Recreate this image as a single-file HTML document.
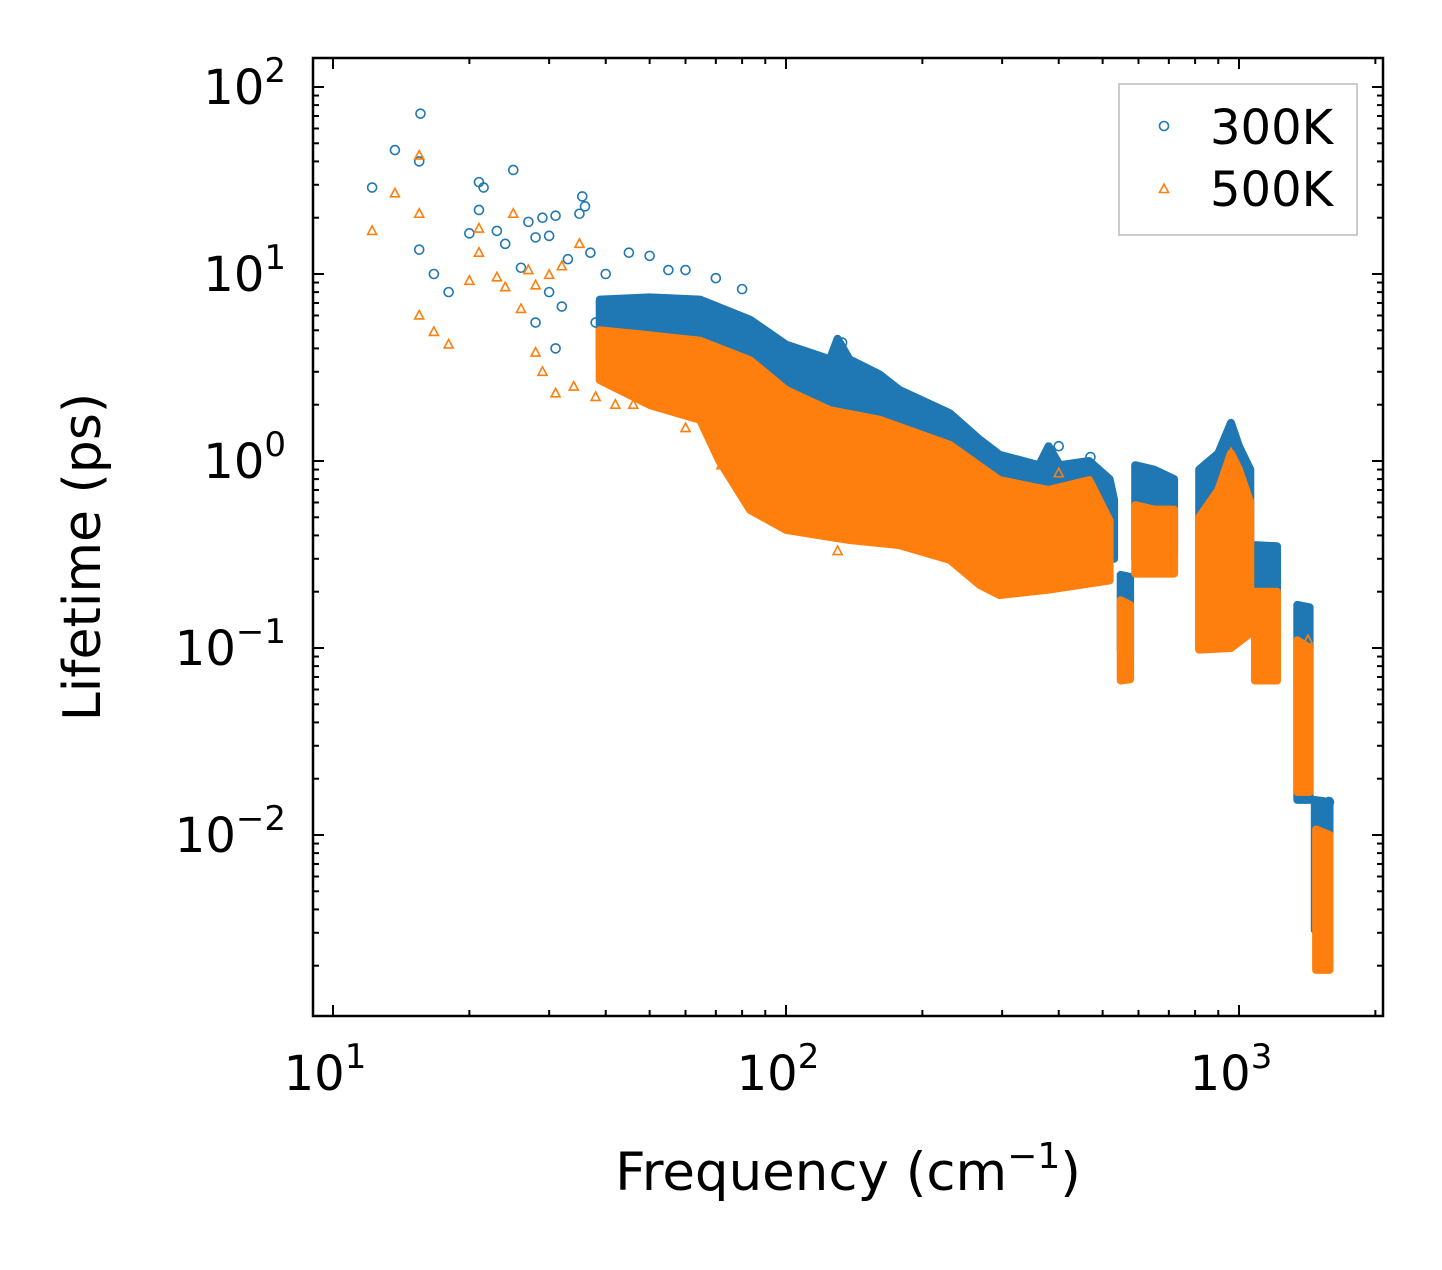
<!DOCTYPE html>
<html><head><meta charset="utf-8">
<style>
html,body{margin:0;padding:0;background:#fff;}
svg text{font-family:"DejaVu Sans","Liberation Sans",sans-serif;fill:#000;}
</style></head>
<body>
<svg id="chart" width="1442" height="1265" viewBox="0 0 1442 1265" xmlns="http://www.w3.org/2000/svg">
<rect width="1442" height="1265" fill="#fff"/>
<g id="plot"></g>
<g id="axes"></g>
</svg>
<script>
// ---- data ----
const xTickExps=[1,2,3];
const yTickExps=[-2,-1,0,1,2];
// dense bands: [freq, lifetime] polygons (upper then lower envelope)
const blueBandMain=[[38.8,7.3],[50,7.5],[64.6,7.3],[83.3,5.7],[100,4.2],[125,3.5],[130,4.5],[138,3.5],[161,2.9],[178,2.4],[230,1.8],[268,1.3],[296,1.08],[362,0.95],[380,1.2],[402,0.95],[467,1.0],[518,0.8],[530,0.62],[530,0.3],[518,0.3],[400,0.27],[296,0.25],[268,0.28],[230,0.38],[161,0.46],[138,0.49],[100,0.56],[83.3,0.7],[71.3,1.3],[64.6,2.1],[50.1,2.6],[38.8,3.5]];
const orangeBandMain=[[38.8,5.0],[50.1,4.7],[64.6,4.4],[83.3,3.46],[100,2.4],[125,1.87],[161,1.66],[230,1.22],[296,0.79],[380,0.70],[467,0.79],[518,0.48],[518,0.23],[380,0.205],[296,0.192],[268,0.217],[230,0.296],[178,0.355],[138,0.378],[100,0.428],[83.3,0.547],[71.3,1.0],[64.6,1.66],[50.1,1.99],[38.8,2.71]];
const blueClusters=[
 [[548,0.246],[575,0.24],[575,0.09],[548,0.098]],
 [[590,0.95],[650,0.9],[719,0.8],[719,0.32],[590,0.3]],
 [[817,0.9],[900,1.1],[960,1.6],[1000,1.2],[1059,0.9],[1059,0.2],[960,0.15],[817,0.098]],
 [[1085,0.355],[1213,0.35],[1213,0.1],[1085,0.098]],
 [[1345,0.17],[1432,0.165],[1432,0.0154],[1345,0.0154]],
 [[1470,0.0154],[1584,0.015],[1584,0.0031],[1470,0.0031]]
];
const orangeClusters=[
 [[548,0.18],[575,0.17],[575,0.068],[548,0.067]],
 [[590,0.58],[650,0.55],[719,0.55],[719,0.25],[590,0.25]],
 [[817,0.5],[900,0.7],[960,1.1],[1000,0.9],[1059,0.6],[1059,0.12],[960,0.1],[817,0.098]],
 [[1085,0.2],[1213,0.2],[1213,0.067],[1085,0.067]],
 [[1345,0.11],[1432,0.1],[1432,0.017],[1345,0.017]],
 [[1480,0.0107],[1584,0.01],[1584,0.0019],[1480,0.0019]]
];
const bluePoints=[[12.2,29],[13.7,46],[15.6,72],[15.5,40],[15.5,13.5],[16.7,10],[18,8],[20,16.5],[21,31],[21.5,29],[21,22],[23,17],[25,36],[24,14.5],[26,10.8],[27,19],[28,15.7],[29,20],[30,16],[31,20.5],[35.5,26],[36,23],[35,21],[30,8],[32,6.7],[33,12],[37,13],[40,10],[45,13],[50,12.5],[55,10.5],[60,10.5],[70,9.5],[80,8.3],[28,5.5],[31,4],[38,5.5],[133,4.3],[160,2.8],[300,1.0],[400,1.2],[470,1.05],[960,1.5],[1420,0.16],[1580,0.015]];
const orangePoints=[[12.2,17],[13.7,27],[15.5,43],[15.5,21],[15.5,6],[16.7,4.9],[18,4.2],[20,9.2],[21,17.5],[21,13],[23,9.6],[24,8.5],[25,21],[26,6.5],[27,10.5],[28,8.7],[30,9.9],[32,11],[35,14.5],[28,3.8],[29,3],[31,2.3],[34,2.5],[38,2.2],[42,2],[46,2],[60,1.5],[70,1.2],[72,0.95],[80,0.8],[90,0.6],[130,0.33],[400,0.86],[960,1.1],[1420,0.11]];
// ---- axes ----
const X0=313,X1=1383,Y0=58,Y1=1016;
const xLogMin=1-20/453, xLogMax=1+1050/453;
const yLogMin=-2-181/187, yLogMax=2+29/187;
const sx=f=>X0+(Math.log10(f)-xLogMin)/(xLogMax-xLogMin)*(X1-X0);
const sy=v=>Y1-(Math.log10(v)-yLogMin)/(yLogMax-yLogMin)*(Y1-Y0);
const NS="http://www.w3.org/2000/svg";
const plot=document.getElementById('plot'), axes=document.getElementById('axes');
function mk(tag,attrs,parent){const e=document.createElementNS(NS,tag);for(const k in attrs)e.setAttribute(k,attrs[k]);parent.appendChild(e);return e;}
const BLUE="#1f77b4",ORANGE="#ff7f0e";
function poly(pts,color,name){
 const e=mk('polygon',{points:pts.map(p=>sx(p[0]).toFixed(1)+','+sy(p[1]).toFixed(1)).join(' '),fill:color,stroke:color,'stroke-width':8,'stroke-linejoin':'round'},plot);
 
 
}
function circ(p,name){
 const e=mk('circle',{cx:sx(p[0]),cy:sy(p[1]),r:4.5,fill:'none',stroke:BLUE,'stroke-width':1.6},plot);
 
 
}
function tri(p,name){
 const x=sx(p[0]),y=sy(p[1]);
 const e=mk('polygon',{points:`${x},${y-5} ${x-4.5},${y+3.5} ${x+4.5},${y+3.5}`,fill:'none',stroke:ORANGE,'stroke-width':1.6},plot);
 
 
}
poly(blueBandMain,BLUE,'band-300k');
blueClusters.forEach(c=>poly(c,BLUE,'cluster-300k'));
bluePoints.forEach(p=>circ(p,'point-300k'));
poly(orangeBandMain,ORANGE,'band-500k');
orangeClusters.forEach(c=>poly(c,ORANGE,'cluster-500k'));
orangePoints.forEach(p=>tri(p,'point-500k'));
// frame
const fr=mk('rect',{x:X0,y:Y0,width:X1-X0,height:Y1-Y0,fill:'none',stroke:'#000','stroke-width':2.5},axes);


function line(x1,y1,x2,y2,w){mk('line',{x1,y1,x2,y2,stroke:'#000','stroke-width':w},axes);}
// x ticks
for(let d=0;d<=3;d++){for(let m=1;m<10;m++){const f=m*Math.pow(10,d);const x=sx(f);if(x<X0||x>X1)continue;const L=m==1?11:6;line(x,Y1,x,Y1-L,2);line(x,Y0,x,Y0+L,2);}}
xTickExps.forEach(e=>{const t=mk('text',{x:sx(Math.pow(10,e))-8,y:1090,'font-size':48,'text-anchor':'middle'},axes);t.innerHTML='10<tspan dy="-22" font-size="34">'+e+'</tspan>';});
// y ticks
for(let d=-3;d<=2;d++){for(let m=1;m<10;m++){const v=m*Math.pow(10,d);const y=sy(v);if(y<Y0||y>Y1)continue;const L=m==1?11:6;line(X0,y,X0+L,y,2);line(X1,y,X1-L,y,2);}}
yTickExps.forEach(e=>{const t=mk('text',{x:286,y:sy(Math.pow(10,e))+17,'font-size':48,'text-anchor':'end'},axes);t.innerHTML='10<tspan dy="-22" font-size="34">'+(e<0?'\u2212'+(-e):e)+'</tspan>';});
</script>
<svg style="position:absolute;left:0;top:0" width="1442" height="1265">
<text x="848" y="1190" font-size="53" text-anchor="middle" style="font-family:'DejaVu Sans','Liberation Sans',sans-serif">Frequency (cm<tspan dy="-22" font-size="36">−1</tspan><tspan dy="22">)</tspan></text>
<text transform="translate(100,557) rotate(-90)" font-size="52" text-anchor="middle" style="font-family:'DejaVu Sans','Liberation Sans',sans-serif">Lifetime (ps)</text>
<g>
<rect x="1119" y="84" width="238" height="151" fill="#fff" fill-opacity="0.8" stroke="#bbb" stroke-width="1.5"/>
<circle cx="1164" cy="126" r="4.5" fill="none" stroke="#1f77b4" stroke-width="1.6"/>
<text x="1210" y="144" font-size="48" style="font-family:'DejaVu Sans','Liberation Sans',sans-serif">300K</text>
<polygon points="1164,184 1159.5,192.5 1168.5,192.5" fill="none" stroke="#ff7f0e" stroke-width="1.6"/>
<text x="1210" y="206" font-size="48" style="font-family:'DejaVu Sans','Liberation Sans',sans-serif">500K</text>
</g>
</svg>
</body></html>
